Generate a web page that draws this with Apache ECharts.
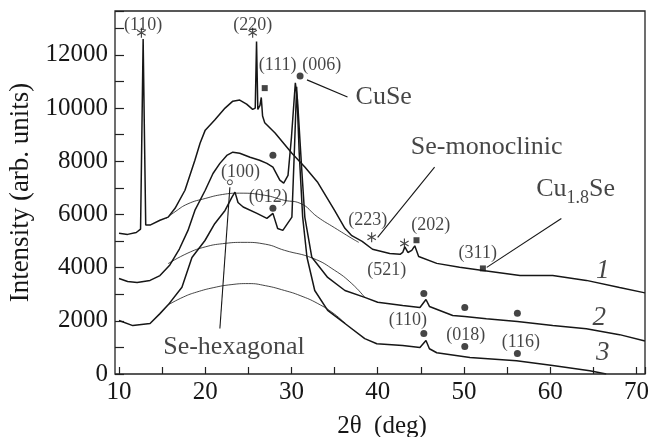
<!DOCTYPE html>
<html>
<head>
<meta charset="utf-8">
<script src="https://cdn.jsdelivr.net/npm/echarts@6/dist/echarts.min.js"></script>
<style>
html, body { margin: 0; padding: 0; background: #fff; }
#chart { width: 651px; height: 437px; }
</style>
</head>
<body>
<div id="chart"></div>
<script>
// XRD patterns, samples 1-3 (2theta in deg, intensity in arb. units)
let curve1 = [
    [10, 5290], [11, 5250], [12, 5320], [12.5, 5450], [12.65, 9000], [12.8, 12600], [12.95, 9000], [13.1, 5600],
    [13.6, 5600], [14.75, 5780], [15.7, 5900], [16.5, 6230], [17.65, 6910], [18.8, 8040], [19.4, 8680],
    [20.0, 9170], [21.1, 9550], [22.3, 10000], [23.2, 10260], [24.0, 10300], [24.8, 10150], [25.5, 9950],
    [25.8, 10000], [25.95, 12500], [26.1, 9950], [26.35, 10100], [26.5, 10400], [26.65, 9700], [26.9, 9450],
    [28.1, 9060], [30.05, 8300], [31.55, 7780], [33.06, 7200], [35.0, 6150], [36.2, 5480], [37.0, 5200],
    [38.2, 4990], [39.4, 4690], [41.4, 4530], [42.6, 4500], [42.9, 4570], [43.15, 4780], [43.5, 4570],
    [43.95, 4650], [44.3, 4820], [44.75, 4420], [46.85, 4160], [49.5, 4010], [52.2, 3890], [56.5, 3700],
    [60.3, 3700], [64.2, 3520], [68.05, 3250], [71, 3050]
];
let curve2 = [
    [10, 3590], [11, 3480], [12.1, 3440], [13.6, 3520], [14.75, 3700], [15.9, 4100], [17.0, 4700], [18.0, 5400],
    [18.8, 6150], [20.0, 6910], [20.9, 7540], [21.7, 7920], [22.5, 8220], [23.2, 8340], [24.0, 8300],
    [25.2, 8150], [26.3, 8040], [27.15, 7920], [27.85, 7780], [28.65, 7290], [29.1, 7180], [29.6, 7470],
    [30.0, 8900], [30.45, 10950], [30.7, 10300], [31.2, 7650], [31.55, 5900], [32.36, 4390], [34.2, 3630],
    [36.2, 3140], [38.5, 2880], [40, 2700], [42.9, 2580], [44.9, 2500], [45.6, 2800], [46.0, 2540],
    [48.7, 2200], [50.1, 2160], [52.6, 2080], [56.2, 1970], [60.3, 1820], [64.2, 1700], [68.05, 1480], [71, 1240]
];
let curve3 = [
    [10, 2010], [11.6, 1820], [13.6, 1900], [14.75, 2270], [15.7, 2600], [17.3, 3260], [18.46, 4380],
    [19.97, 5020], [21.1, 5650], [22.3, 6150], [23.1, 6650], [23.45, 6840], [23.8, 6450], [24.4, 6280],
    [26.0, 6040], [27.15, 5850], [27.85, 6040], [28.4, 5470], [29.0, 5400], [30.05, 5900], [30.35, 8500],
    [30.6, 10800], [30.9, 8300], [31.3, 5900], [31.8, 4390], [32.7, 3140], [34.2, 2390], [36.2, 1900],
    [38.5, 1330], [39.9, 1140], [42.9, 1070], [44.9, 1000], [45.6, 1260], [46.0, 950], [46.85, 800],
    [50.7, 620], [56.1, 500], [60.3, 320], [64.6, 125], [66.5, 0]
];
// amorphous humps
let bg1 = [[15.5, 5850], [16.5, 6100], [18, 6400], [20, 6600], [22, 6750], [24, 6800], [26.9, 6720],
    [29.2, 6530], [31, 6420], [33.05, 5900], [35, 5500], [37, 5100], [37.8, 4950]];
let bg2 = [[15.7, 4150], [18, 4550], [20, 4780], [22, 4900], [24.5, 4950], [27, 4880], [29.2, 4650],
    [32.5, 4350], [35, 3900], [37, 3400], [38.5, 2880]];
let bg3 = [[15.7, 2600], [17.5, 2900], [19, 3080], [21, 3250], [23, 3360], [25, 3400], [27, 3320],
    [29.2, 3140], [31, 2950], [33.05, 2650], [35, 2250], [36.2, 1900]];

// reflection markers
let starMarks = [[12.6, 12830], [25.5, 12830], [39.3, 5140], [43.1, 4910]];
let squareMarks = [[26.9, 10750], [44.5, 5030], [52.2, 3970]];
let dotMarks = [[31.0, 11210], [27.85, 8230], [27.85, 6230], [45.35, 3030], [50.1, 2500], [56.2, 2280],
    [45.35, 1520], [50.1, 1030], [56.2, 770]];
let ringMarks = [[22.86, 7210]];

// text labels [text, x, y]
let hklLabels = [
    ['(110)', 12.8, 13130], ['(220)', 25.5, 13130], ['(111)', 28.4, 11620], ['(006)', 33.5, 11620],
    ['(100)', 24.1, 7590], ['(012)', 27.3, 6650], ['(223)', 38.85, 5780], ['(202)', 46.15, 5590],
    ['(521)', 41.05, 3890], ['(311)', 51.6, 4530], ['(110)', 43.5, 2010], ['(018)', 50.2, 1450],
    ['(116)', 56.6, 1180]
];
let phaseLabels = [['CuSe', 40.7, 10420], ['Se-monoclinic', 52.64, 8530], ['Se-hexagonal', 23.33, 1000]];
let cu18seLabel = [['Cu1.8Se', 62.96, 6910]];
let curveLabels = [['1', 66.1, 3890], ['2', 65.7, 2120], ['3', 66.1, 800]];
let leaders = [
    [[31.8, 11060], [36.5, 10420]],
    [[46.6, 7780], [40.0, 5140]],
    [[52.65, 4010], [61.3, 5850]],
    [[22.86, 7020], [21.7, 1710]]
];

let serif = '"Liberation Serif", "Times New Roman", serif';
let ink = '#161616';
// six-armed asterisk
let starPath = 'path://M-0.6,-5L0.6,-5L0.6,5L-0.6,5Z' +
    'M-4.63,-1.98L-4.03,-3.02L4.63,1.98L4.03,3.02Z' +
    'M4.03,-3.02L4.63,-1.98L-4.03,3.02L-4.63,1.98Z';

function curveSeries(data, width, smooth) {
    return {
        type: 'line',
        data: data,
        showSymbol: false,
        smooth: smooth,
        silent: true,
        lineStyle: { color: ink, width: width },
        z: 3
    };
}

function markSeries(data, symbol, size, filled) {
    return {
        type: 'scatter',
        data: data,
        symbol: symbol,
        symbolSize: size,
        silent: true,
        itemStyle: filled
            ? { color: ink }
            : { color: '#fff', borderColor: ink, borderWidth: 1 },
        z: 6
    };
}

function textSeries(items, style, formatter) {
    return {
        type: 'scatter',
        symbolSize: 0,
        silent: true,
        data: items.map(t => ({ value: [t[1], t[2]], name: t[0] })),
        label: Object.assign({
            show: true,
            position: 'inside',
            formatter: formatter || '{b}',
            color: ink,
            fontFamily: serif
        }, style),
        z: 7
    };
}

let chart = echarts.init(document.getElementById('chart'));

let option = {
    backgroundColor: '#fff',
    animation: false,
    grid: { left: 119, right: 6, top: 11, bottom: 63, outerBoundsMode: 'none', containLabel: false },
    graphic: [{
        type: 'rect',
        silent: true,
        z: 100,
        shape: { x: 115, y: 11, width: 530, height: 363 },
        style: { fill: 'none', stroke: '#222', lineWidth: 1.3 }
    }],
    xAxis: {
        type: 'value',
        min: 10,
        max: 71,
        interval: 5,
        name: '2\u03b8  (deg)',
        nameLocation: 'middle',
        nameGap: 40,
        nameTextStyle: { fontFamily: serif, fontSize: 25, color: ink },
        axisLine: { show: false },
        axisTick: { inside: true, length: 7, lineStyle: { color: '#222', width: 1.2 } },
        axisLabel: {
            fontFamily: serif, fontSize: 25, color: ink, margin: 6,
            formatter: v => (v % 10 === 0 ? String(v) : '')
        },
        splitLine: { show: false }
    },
    yAxis: {
        type: 'value',
        min: 0,
        max: 13650,
        interval: 1000,
        offset: 4,
        name: 'Intensity (arb. units)',
        nameLocation: 'middle',
        nameRotate: 90,
        nameGap: 79,
        nameTextStyle: { fontFamily: serif, fontSize: 27, color: ink },
        axisLine: { show: false },
        axisTick: { inside: true, length: 9, lineStyle: { color: '#222', width: 1.2 } },
        axisLabel: {
            fontFamily: serif, fontSize: 25, color: ink, margin: 7,
            formatter: v => (v % 2000 === 0 ? String(v) : '')
        },
        splitLine: { show: false }
    },
    series: [
        curveSeries(bg1, 0.8, 0.5),
        curveSeries(bg2, 0.8, 0.5),
        curveSeries(bg3, 0.8, 0.5),
        curveSeries(curve1, 1.5, false),
        curveSeries(curve2, 1.5, false),
        curveSeries(curve3, 1.5, false),
        {
            type: 'lines',
            coordinateSystem: 'cartesian2d',
            silent: true,
            data: leaders.map(l => ({ coords: l })),
            lineStyle: { color: ink, width: 1.1, opacity: 1 },
            z: 4
        },
        markSeries(starMarks, starPath, [9, 10], true),
        markSeries(squareMarks, 'rect', 6, true),
        markSeries(dotMarks, 'circle', 7, true),
        markSeries(ringMarks, 'circle', 5, false),
        textSeries(hklLabels, { fontSize: 18 }),
        textSeries(phaseLabels, { fontSize: 26 }),
        textSeries(curveLabels, { fontSize: 27, fontStyle: 'italic' }),
        textSeries(cu18seLabel, {
            rich: {
                a: { fontFamily: serif, fontSize: 26, color: ink, verticalAlign: 'top', lineHeight: 28 },
                b: { fontFamily: serif, fontSize: 18, color: ink, verticalAlign: 'top', lineHeight: 18, padding: [13, 0, 0, 0] }
            }
        }, '{a|Cu}{b|1.8}{a|Se}')
    ]
};

chart.setOption(option);
</script>
</body>
</html>
